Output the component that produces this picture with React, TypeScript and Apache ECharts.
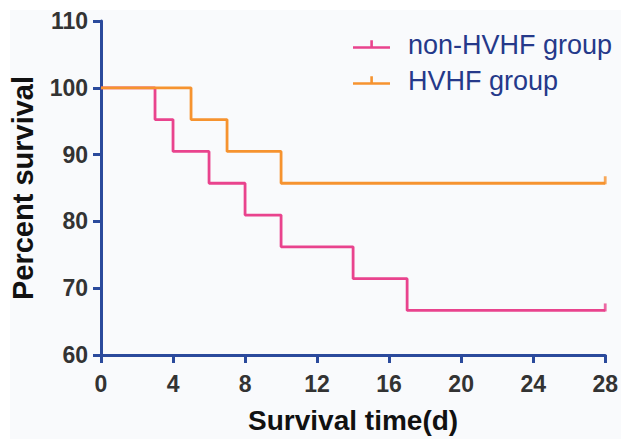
import React, { useEffect, useRef } from "react";
import * as echarts from "echarts";

// Kaplan–Meier step data (time in days, percent survival)
const nonHvhfTimes = [0, 3, 4, 6, 8, 10, 14, 17, 28];
const nonHvhfSurvival = [100, 95.24, 90.48, 85.71, 80.95, 76.19, 71.43, 66.67, 66.67];
const hvhfTimes = [0, 5, 7, 10, 28];
const hvhfSurvival = [100, 95.24, 90.48, 85.71, 85.71];

// censored observations
const nonHvhfCensorTimes = [28];
const nonHvhfCensorValues = [66.67];
const hvhfCensorTimes = [28];
const hvhfCensorValues = [85.71];

const seriesNames = ["non-HVHF group", "HVHF group"];
const xTicks = { min: 0, max: 28, interval: 4 };
const yTicks = { min: 60, max: 110, interval: 10 };
const xTitle = "Survival time(d)";
const yTitle = "Percent survival";

const PINK = "#e9438d";
const ORANGE = "#f6932f";
const AXIS = "#2b4a9c";
const FONT = "'Liberation Sans', Arial, Helvetica, sans-serif";

const zip = (xs: number[], ys: number[]) => xs.map((x, i) => [x, ys[i]]);

const legendIcon = "path://M0,6h37v2.6H0z M17.3,0h2.6v7h-2.6z";

export default function App() {
  const ref = useRef<HTMLDivElement>(null);

  useEffect(() => {
    if (!ref.current) return;
    const chart = echarts.init(ref.current, undefined, { renderer: "svg" });
    const axisCommon = {
      axisLine: { show: true, onZero: false, lineStyle: { color: AXIS, width: 3 } },
      axisTick: { show: true, inside: false, length: 8, lineStyle: { color: AXIS, width: 3 } },
      splitLine: { show: false },
    };
    chart.setOption({
      animation: false,
      backgroundColor: "#ffffff",
      textStyle: { fontFamily: FONT },
      graphic: [
        {
          type: "rect",
          z: -10,
          silent: true,
          shape: { x: 10, y: 10, width: 611, height: 429 },
          style: { fill: "#f9fafc" },
        },
      ],
      grid: { left: 101, top: 21, right: 15, bottom: 81 },
      legend: {
        data: seriesNames,
        orient: "vertical",
        left: 348,
        top: 26,
        itemGap: 9,
        itemWidth: 37,
        itemHeight: 8.6,
        icon: legendIcon,
        textStyle: {
          color: "#25398a",
          fontSize: 27,
          fontFamily: FONT,
          padding: [0, 0, 0, 13],
        },
      },
      xAxis: {
        type: "value",
        min: xTicks.min,
        max: xTicks.max,
        interval: xTicks.interval,
        name: xTitle,
        nameLocation: "middle",
        nameGap: 51,
        nameTextStyle: { color: "#111", fontSize: 28, fontWeight: "bold", fontFamily: FONT },
        axisLabel: { color: "#333", fontSize: 23, fontWeight: "bold", margin: 17, fontFamily: FONT },
        ...axisCommon,
      },
      yAxis: {
        type: "value",
        min: yTicks.min,
        max: yTicks.max,
        interval: yTicks.interval,
        name: yTitle,
        nameLocation: "middle",
        nameGap: 64,
        nameTextStyle: { color: "#111", fontSize: 29, fontWeight: "bold", fontFamily: FONT },
        axisLabel: { color: "#333", fontSize: 23, fontWeight: "bold", margin: 13, fontFamily: FONT },
        ...axisCommon,
      },
      series: [
        {
          name: seriesNames[0],
          type: "line",
          step: "end",
          data: zip(nonHvhfTimes, nonHvhfSurvival),
          showSymbol: false,
          symbol: "none",
          color: PINK,
          lineStyle: { color: PINK, width: 2.8 },
          itemStyle: { color: PINK },
          z: 3,
        },
        {
          name: seriesNames[1],
          type: "line",
          step: "end",
          data: zip(hvhfTimes, hvhfSurvival),
          showSymbol: false,
          symbol: "none",
          color: ORANGE,
          lineStyle: { color: ORANGE, width: 2.8 },
          itemStyle: { color: ORANGE },
          z: 3,
        },
        {
          name: "non-HVHF censored",
          type: "scatter",
          data: zip(nonHvhfCensorTimes, nonHvhfCensorValues),
          symbol: "rect",
          symbolSize: [2.8, 8],
          symbolOffset: [0, -3],
          clip: false,
          itemStyle: { color: PINK },
          z: 4,
        },
        {
          name: "HVHF censored",
          type: "scatter",
          data: zip(hvhfCensorTimes, hvhfCensorValues),
          symbol: "rect",
          symbolSize: [2.8, 8],
          symbolOffset: [0, -3],
          clip: false,
          itemStyle: { color: ORANGE },
          z: 4,
        },
      ],
    });
    return () => chart.dispose();
  }, []);

  return (
    <div
      ref={ref}
      style={{ position: "fixed", left: 0, top: 0, width: 621, height: 439 }}
    />
  );
}
